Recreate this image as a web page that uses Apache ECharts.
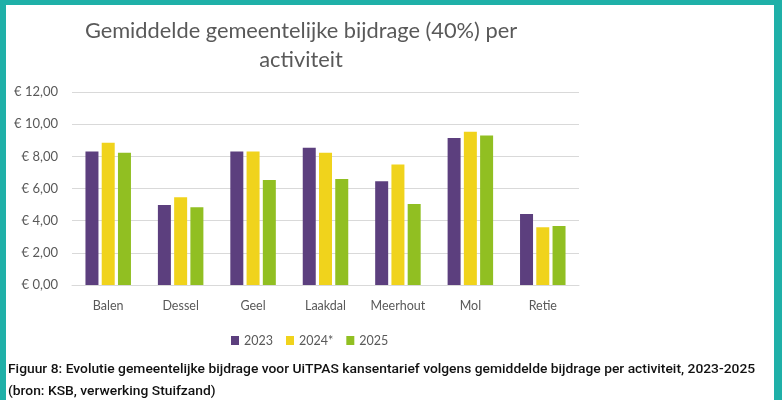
<!DOCTYPE html>
<html>
<head>
<meta charset="utf-8">
<script src="https://cdn.jsdelivr.net/npm/echarts@6/dist/echarts.min.js"></script>
<style>
  body { margin: 0; }
  .frame { position: absolute; left: 0; top: 0; width: 782px; height: 400px; background: #1fb0a8; }
  .inner { position: absolute; left: 6px; top: 5px; width: 768px; height: 395px; background: #fff; }
  #chart { position: absolute; left: 0; top: 0; width: 782px; height: 400px; }
  .cap {
    position: absolute; left: 8px; white-space: nowrap;
    font-family: Roboto, sans-serif; font-weight: 500; font-size: 13.5px; color: #111;
    transform-origin: left center;
  }
</style>
</head>
<body>
<div class="frame"><div class="inner"></div></div>
<div id="chart"></div>
<div class="cap" id="cap1" style="top:360px">Figuur 8: Evolutie gemeentelijke bijdrage voor UiTPAS kansentarief volgens gemiddelde bijdrage per activiteit, 2023-2025</div>
<div class="cap" id="cap2" style="top:382px">(bron: KSB, verwerking Stuifzand)</div>

<script>
  const gemeenten = ["Balen", "Dessel", "Geel", "Laakdal", "Meerhout", "Mol", "Retie"];
  const jaren = ["2023", "2024*", "2025"];
  const waarden2023 = [8.3, 4.97, 8.3, 8.54, 6.45, 9.14, 4.42];
  const waarden2024 = [8.85, 5.45, 8.3, 8.23, 7.5, 9.53, 3.59];
  const waarden2025 = [8.23, 4.83, 6.53, 6.59, 5.04, 9.29, 3.67];
  const yMax = 12;
  const yStep = 2;

  const kleuren = ["#5c3f7e", "#f0d31c", "#91bf22"];
  const grijs = "#595959";

  let myChart = echarts.init(document.getElementById("chart"));

  const reeksen = [waarden2023, waarden2024, waarden2025].map((data, i) => ({
    type: "bar",
    name: jaren[i],
    data: data,
    barWidth: 13,
    barGap: "25%",
    itemStyle: { color: kleuren[i] }
  }));

  myChart.setOption({
    animation: false,
    title: {
      text: "Gemiddelde gemeentelijke bijdrage (40%) per\nactiviteit",
      left: 301,
      top: 16,
      padding: 0,
      textAlign: "center",
      textStyle: {
        fontFamily: "Lato",
        fontWeight: "normal",
        fontSize: 21.8,
        lineHeight: 29,
        color: grijs,
        align: "center"
      }
    },
    legend: {
      data: jaren,
      left: 226,
      top: 329,
      icon: "rect",
      itemWidth: 8,
      itemHeight: 9,
      itemGap: 13,
      textStyle: { fontFamily: "Lato", fontSize: 12.5, color: grijs }
    },
    grid: {
      left: 72,
      right: 203,
      top: 92,
      bottom: 115
    },
    xAxis: {
      type: "category",
      data: gemeenten,
      axisTick: { show: false },
      axisLine: { lineStyle: { color: "#d9d9d9" } },
      axisLabel: { margin: 14, fontFamily: "Lato", fontSize: 12.5, color: grijs }
    },
    yAxis: {
      type: "value",
      min: 0,
      max: yMax,
      interval: yStep,
      axisLine: { show: false },
      axisTick: { show: false },
      splitLine: { lineStyle: { color: "#d9d9d9" } },
      axisLabel: {
        margin: 14,
        fontFamily: "Lato",
        fontSize: 13,
        color: grijs,
        formatter: (v) => "€ " + v.toFixed(2).replace(".", ",")
      }
    },
    series: reeksen
  });

  // caption lines fitted to the width they have in the source
  const cap1 = document.getElementById("cap1");
  const schaal = 747 / cap1.scrollWidth;
  cap1.style.transform = "scaleX(" + schaal + ")";
  document.getElementById("cap2").style.transform = "scaleX(" + schaal + ")";
</script>
</body>
</html>
